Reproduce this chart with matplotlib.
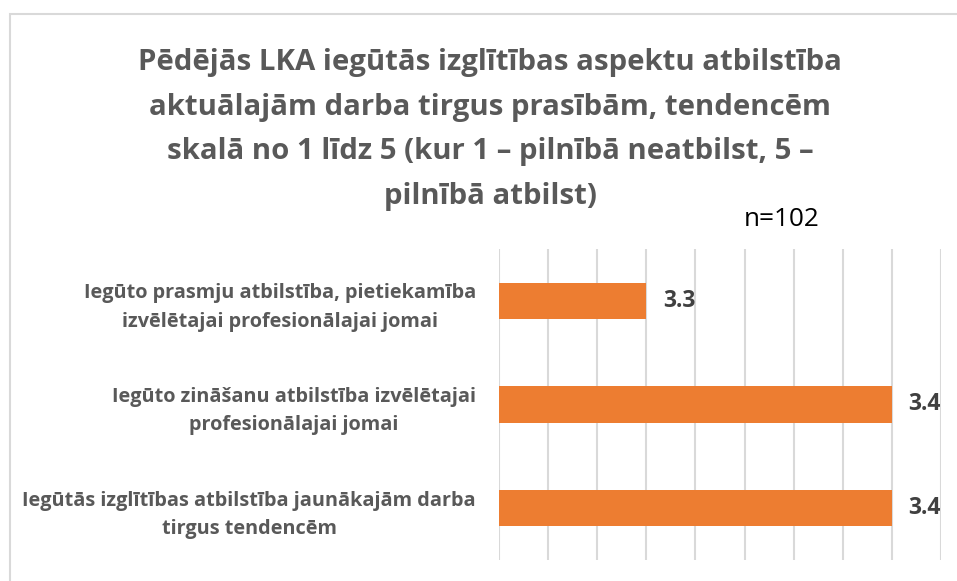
import matplotlib
matplotlib.use("Agg")
import matplotlib.pyplot as plt
from matplotlib.patches import Rectangle

categories = [
    "Iegūto prasmju atbilstība, pietiekamība\nizvēlētajai profesionālajai jomai",
    "Iegūto zināšanu atbilstība izvēlētajai\nprofesionālajai jomai",
    "Iegūtās izglītības atbilstība jaunākajām darba\ntirgus tendencēm",
]
values = [3.30, 3.40, 3.40]
value_labels = ["3.3", "3.4", "3.4"]
title_lines = [
    "Pēdējās LKA iegūtās izglītības aspektu atbilstība",
    "aktuālajām darba tirgus prasībām, tendencēm",
    "skalā no 1 līdz 5 (kur 1 – pilnībā neatbilst, 5 –",
    "pilnībā atbilst)",
]
note = "n=102"
x_min, x_max, x_step = 3.24, 3.42, 0.02

plt.rcParams['font.family'] = ['Open Sans', 'DejaVu Sans']

fig = plt.figure(figsize=(9.57, 5.81), dpi=100)
fig.patch.set_facecolor("white")

# outer chart border
fig.patches.append(Rectangle((9.5/957, -0.05), 1.1, 1 - 13.5/581 + 0.05,
                             transform=fig.transFigure, fill=False,
                             edgecolor="#d9d9d9", linewidth=1.5))

ax = fig.add_axes([499/957, 1 - 560/581, (941 - 499)/957, (560 - 249)/581])
ypos = list(range(len(categories)))
ax.barh(ypos, [v - x_min for v in values], left=x_min, height=0.35,
        color="#ED7D31", zorder=3)
ax.set_ylim(len(categories) - 0.5, -0.5)
ax.set_xlim(x_min, x_max)
n_ticks = int(round((x_max - x_min) / x_step)) + 1
ax.set_xticks([x_min + i * x_step for i in range(n_ticks)])
ax.xaxis.grid(True, color="#d9d9d9", linewidth=1.5, zorder=0)
ax.tick_params(axis="x", length=0, labelbottom=False)
ax.tick_params(axis="y", length=0, pad=16.5)
ax.set_yticks(ypos)
ax.set_yticklabels(categories, fontsize=14.3, fontweight="bold",
                   color="#595959", linespacing=1.55, ha="right")
for lbl in ax.get_yticklabels():
    lbl.set_multialignment("center")
for s in ax.spines.values():
    s.set_visible(False)

for y, v, t in zip(ypos, values, value_labels):
    ax.annotate(t, (v, y), xytext=(12, 0), textcoords="offset points",
                ha="left", va="center", fontsize=16.5, fontweight="bold",
                color="#404040")

# title, one text per line
line_gap = 44.7
for i, line in enumerate(title_lines):
    fig.text(490/957, 1 - (70 + i * line_gap)/581, line, ha="center",
             va="baseline", fontsize=21.2, fontweight="bold", color="#595959")
fig.text(782/957, 1 - 220/581, note, ha="center", va="center",
         fontsize=18.8, color="black")

fig.savefig("out.png", dpi=100, facecolor="white")
